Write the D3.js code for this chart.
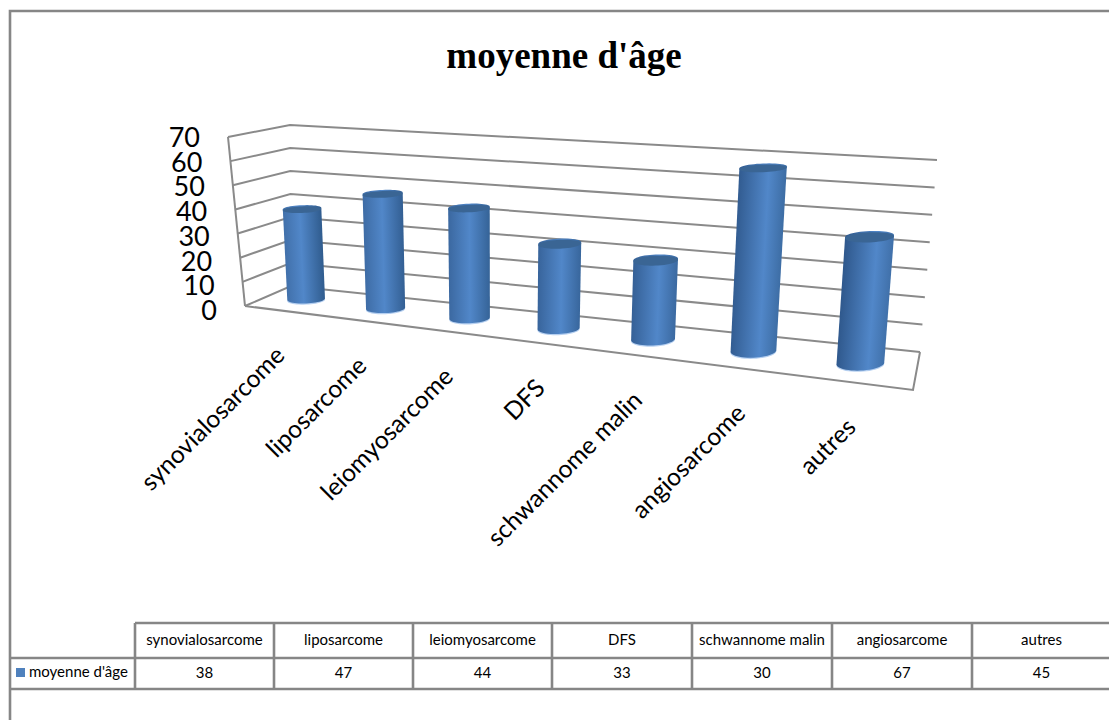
<!DOCTYPE html>
<html>
<head>
<meta charset="utf-8">
<script src="https://cdn.jsdelivr.net/npm/d3@7"></script>
<style>
html,body{margin:0;padding:0;background:#fff;overflow:hidden}
svg{display:block}
</style>
</head>
<body>
<svg id="chart" width="1109" height="720"></svg>
<script>
// Mean age per sarcoma type
const categories = ["synovialosarcome","liposarcome","leiomyosarcome","DFS","schwannome malin","angiosarcome","autres"];
const ages = [38,47,44,33,30,67,45];
const seriesName = "moyenne d'âge";
const yTicks = [0,10,20,30,40,50,60,70];

const svg = d3.select("#chart");
const grey = "#868686";
const fontUI = "Lato, 'Open Sans', sans-serif";

// Plot box corners on screen: floor and ceiling quads
const floorQuad = {fl:[245,306], fr:[913,390], br:[920,352], bl:[291,286]};
const topQuad   = {fl:[228,137], fr:[929,180], br:[937,160], bl:[290,125]};

const lerp=(a,b,t)=>[a[0]+(b[0]-a[0])*t, a[1]+(b[1]-a[1])*t];
// Foreshortening along the category direction: the right side is nearer
const persp = -0.188;
const warpU = u => u*(1+persp)/(1+persp*u);

const uScale = d3.scaleBand().domain(categories).range([0,1]);
const hScale = d3.scaleLinear().domain([0,70]).range([0,1]);

// Project (u along categories, v into depth, value) to the screen
function project(u,v,val){
  const w=warpU(u), t=hScale(val);
  const f=lerp(lerp(floorQuad.fl,floorQuad.fr,w),lerp(floorQuad.bl,floorQuad.br,w),v);
  const c=lerp(lerp(topQuad.fl,topQuad.fr,w),lerp(topQuad.bl,topQuad.br,w),v);
  return lerp(f,c,t);
}

// Walls and floor
const gridG = svg.append("g").attr("fill","none").attr("stroke","#8a8a8a").attr("stroke-width",2);
const line = d3.line();
yTicks.forEach(t=>{
  gridG.append("path").attr("d",line([project(0,0,t),project(0,1,t),project(1,1,t)]));
});
gridG.append("path").attr("d",line([project(0,0,0),project(0,0,70)]));
gridG.append("path").attr("d",line([project(0,0,0),project(1,0,0),project(1,1,0)]));

// Value axis labels follow the slanted front edge
svg.append("g").selectAll("text").data(yTicks).join("text")
  .attr("x",d=>project(0,0,d)[0]-28)
  .attr("y",d=>project(0,0,d)[1]+14-d*0.06)
  .attr("text-anchor","end")
  .attr("font-family",fontUI).attr("font-size",27).attr("fill","#000")
  .text(d=>d);

// Cylinders
const defs = svg.append("defs");
const barsG = svg.append("g");
const vMid = 0.5, barFrac = 0.46, depthFrac = 0.2;

function ellipsePts(c,ux,uy,rx,ry){
  return d3.range(0,48).map(i=>{
    const a=i/48*2*Math.PI, ca=Math.cos(a), sa=Math.sin(a);
    return [c[0]+rx*ca*ux, c[1]+rx*ca*uy+ry*sa];
  });
}
categories.forEach((cat,i)=>{
  const val=ages[i];
  const uc=uScale(cat)+uScale.bandwidth()/2, du=uScale.bandwidth()*barFrac/2;
  const widthAdjust=1.07-0.14*uc;
  const ellipseAt=h=>{
    const c=project(uc,vMid,h), l=project(uc-du,vMid,h), r=project(uc+du,vMid,h);
    const dx=r[0]-l[0], dy=r[1]-l[1], len=Math.hypot(dx,dy);
    const depth=Math.abs(project(uc,1,h)[1]-project(uc,0,h)[1]);
    return {c,rx:len/2*widthAdjust,ry:depth*depthFrac,ux:dx/len,uy:-0.04};
  };
  const b=ellipseAt(0), t=ellipseAt(val);
  const bottom=ellipsePts(b.c,b.ux,b.uy,b.rx,b.ry), top=ellipsePts(t.c,t.ux,t.uy,t.rx,t.ry);
  const hull=d3.polygonHull(bottom.concat(top));

  // Shading runs across the axis of the cylinder
  const ax=t.c[0]-b.c[0], ay=t.c[1]-b.c[1], al=Math.hypot(ax,ay);
  const nx=-ay/al, ny=ax/al, s=nx<0?-1:1, r=(b.rx+t.rx)/2;
  const hi=0.42+0.26*uc;
  const grad=defs.append("linearGradient").attr("id","cyl"+i)
    .attr("gradientUnits","userSpaceOnUse")
    .attr("x1",b.c[0]-s*nx*r).attr("y1",b.c[1]-s*ny*r)
    .attr("x2",b.c[0]+s*nx*r).attr("y2",b.c[1]+s*ny*r);
  [[0,d3.interpolateRgb("#4272ad","#2e5689")(uc)],[hi,"#5187c9"],[1,d3.interpolateRgb("#2f5a8c","#4172ab")(uc)]]
    .forEach(([o,c])=>grad.append("stop").attr("offset",o).attr("stop-color",c));

  barsG.append("path").attr("d",line(bottom)+"Z").attr("fill","#b5cff0");
  const shifted=hull.map(p=>[p[0],p[1]-1.2]);
  barsG.append("path").attr("d",line(shifted)+"Z").attr("fill",`url(#cyl${i})`);
  barsG.append("path").attr("d",line(top)+"Z").attr("fill","#3a6594");
});

// Slanted category labels under the front edge
svg.append("g").selectAll("text").data(categories).join("text")
  .each(function(d){
    const p=project(uScale(d)+uScale.bandwidth()/2,0,0);
    d3.select(this).attr("transform",`translate(${p[0]+2},${p[1]+46}) rotate(-45)`);
  })
  .attr("text-anchor","end")
  .attr("font-family",fontUI).attr("font-size",24.6).attr("fill","#000")
  .text(d=>d);

// Title
svg.append("text").attr("x",564).attr("y",68).attr("text-anchor","middle")
  .attr("font-family","'Liberation Serif',serif").attr("font-weight","bold")
  .attr("font-size",37).attr("fill","#000").text("moyenne d'âge");

// Outer frame, open at the right and bottom
svg.append("path").attr("d",line([[10,720],[10,11],[1109,11]]))
  .attr("fill","none").attr("stroke",grey).attr("stroke-width",2.6);

// Data table
const colEdges=[135,274,413,552,692,832,972,1111];
const tableTop=623, rowMid=658, rowBottom=689;
const tableG=svg.append("g").attr("stroke",grey).attr("stroke-width",2.6).attr("fill","none");
tableG.append("path").attr("d",line([[135,tableTop],[1109,tableTop]]));
tableG.append("path").attr("d",line([[10,rowMid],[1109,rowMid]]));
tableG.append("path").attr("d",line([[10,rowBottom],[1109,rowBottom]]));
colEdges.slice(0,7).forEach(x=>tableG.append("path").attr("d",line([[x,tableTop],[x,rowBottom]])));

const cellText=(x,y,t)=>svg.append("text").attr("x",x).attr("y",y).attr("text-anchor","middle")
  .attr("font-family",fontUI).attr("font-size",15).attr("fill","#000").text(t);
categories.forEach((c,i)=>{
  const cx=(colEdges[i]+colEdges[i+1])/2;
  cellText(cx,645,c);
  cellText(cx,678,ages[i]);
});
svg.append("rect").attr("x",16).attr("y",668).attr("width",9).attr("height",9).attr("fill","#4f81bd");
svg.append("text").attr("x",29).attr("y",677).attr("font-family",fontUI).attr("font-size",15)
  .attr("fill","#000").text(seriesName);
</script>
</body>
</html>
